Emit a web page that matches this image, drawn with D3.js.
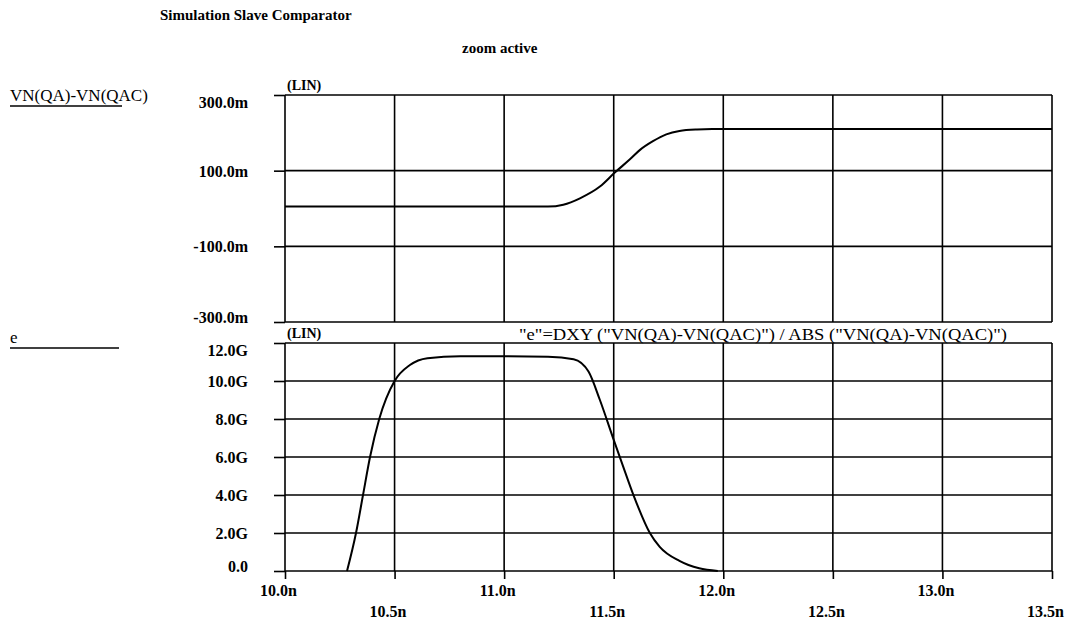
<!DOCTYPE html>
<html>
<head>
<meta charset="utf-8">
<script src="https://cdn.jsdelivr.net/npm/d3@7"></script>
<style>
body { margin: 0; background: #fff; }
text { font-family: "Liberation Serif", "Times New Roman", serif; fill: #000; }
</style>
</head>
<body>
<svg width="1069" height="623"></svg>
<script>
// shared time axis (ns)
var timeTicks = [10.0, 10.5, 11.0, 11.5, 12.0, 12.5, 13.0, 13.5];
var timeLabels = ["10.0n", "10.5n", "11.0n", "11.5n", "12.0n", "12.5n", "13.0n", "13.5n"];

// upper plot: VN(QA)-VN(QAC) in mV
var vTicks = [300, 100, -100, -300];
var vLabels = ["300.0m", "100.0m", "-100.0m", "-300.0m"];
var vTime  = [10.0, 11.2, 11.27, 11.346, 11.437, 11.505, 11.574, 11.62, 11.679, 11.74, 11.80, 11.88, 11.95, 13.5];
var vValue = [5, 5, 10, 27, 58, 95, 130, 155, 178, 196, 205, 209, 210, 210];

// lower plot: e in G
var eTicks = [12, 10, 8, 6, 4, 2, 0];
var eLabels = ["12.0G", "10.0G", "8.0G", "6.0G", "4.0G", "2.0G", "0.0"];
var eTime  = [10.283, 10.324, 10.356, 10.388, 10.43, 10.5, 10.57, 10.65, 10.8, 11.0, 11.2, 11.317, 11.385, 11.437, 11.5, 11.54, 11.59, 11.665, 11.71, 11.80, 11.89, 11.975];
var eValue = [0, 2, 4, 6, 8, 10, 10.84, 11.2, 11.3, 11.3, 11.28, 11.15, 10.5, 9.0, 6.9, 5.6, 4.0, 2.0, 1.27, 0.53, 0.14, 0];

var svg = d3.select("svg");

var x = d3.scaleLinear().domain([10, 13.5]).range([285, 1052]);
var yTop = d3.scaleLinear().domain([-300, 300]).range([322, 95]);
var yBot = d3.scaleLinear().domain([0, 12]).range([571, 343]);

svg.append("text").attr("x", 160).attr("y", 20)
  .style("font-size", "15px").style("font-weight", "bold")
  .text("Simulation Slave Comparator");
svg.append("text").attr("x", 462).attr("y", 53)
  .style("font-size", "15px").style("font-weight", "bold")
  .text("zoom active");

function plot(y, ticks, labels, times, values, name, nameY, lineEnd) {
  var g = svg.append("g");

  // grid, borders included
  g.selectAll(".vg").data(timeTicks).enter().append("line")
    .attr("x1", d => x(d)).attr("x2", d => x(d))
    .attr("y1", y.range()[1]).attr("y2", y.range()[0])
    .attr("stroke", "#000").attr("stroke-width", 1.6);
  g.selectAll(".hg").data(ticks).enter().append("line")
    .attr("x1", x.range()[0]).attr("x2", x.range()[1])
    .attr("y1", d => y(d)).attr("y2", d => y(d))
    .attr("stroke", "#000").attr("stroke-width", 1.6);

  var axis = d3.axisLeft(y).tickValues(ticks).tickSize(11).tickPadding(26)
    .tickFormat((d, i) => labels[i]);
  var ax = g.append("g").attr("transform", "translate(" + x.range()[0] + ",0)").call(axis);
  ax.select(".domain").remove();
  ax.selectAll("line").attr("stroke", "#000").attr("stroke-width", 1.6);
  ax.selectAll("text")
    .style("font-family", "'Liberation Serif', serif").style("font-size", "16px").style("font-weight", "bold")
    .attr("dy", (d, i) => i == 0 ? "0.75em" : (i == ticks.length - 1 ? "0" : "0.35em"));

  g.append("text").attr("x", x.range()[0] + 2).attr("y", y.range()[1] - 5)
    .style("font-size", "14px").style("font-weight", "bold").text("(LIN)");

  var line = d3.line().x((d, i) => x(times[i])).y(d => y(d)).curve(d3.curveMonotoneX);
  g.append("path").datum(values).attr("d", line)
    .attr("fill", "none").attr("stroke", "#000").attr("stroke-width", 2);

  g.append("text").attr("x", 10).attr("y", nameY).style("font-size", "17px").text(name);
  g.append("line").attr("x1", 10).attr("x2", lineEnd).attr("y1", nameY + 5).attr("y2", nameY + 5)
    .attr("stroke", "#000").attr("stroke-width", 1.6);
}

plot(yTop, vTicks, vLabels, vTime, vValue, "VN(QA)-VN(QAC)", 101, 122);
plot(yBot, eTicks, eLabels, eTime, eValue, "e", 343, 119);

svg.append("text").attr("x", 519).attr("y", 340).style("font-size", "16px")
  .attr("textLength", 488).attr("lengthAdjust", "spacingAndGlyphs")
  .text("\"e\"=DXY (\"VN(QA)-VN(QAC)\") / ABS (\"VN(QA)-VN(QAC)\")");

var xAxis = d3.axisBottom(x).tickValues(timeTicks).tickSize(8).tickFormat((d, i) => timeLabels[i]);
var xa = svg.append("g").attr("transform", "translate(0," + yBot.range()[0] + ")").call(xAxis);
xa.select(".domain").remove();
xa.selectAll("line").attr("stroke", "#000").attr("stroke-width", 1.6);
xa.selectAll("text")
  .style("font-family", "'Liberation Serif', serif").style("font-size", "16px").style("font-weight", "bold")
  .attr("x", -7).attr("dy", "0.35em")
  .attr("y", (d, i) => i % 2 == 0 ? 19 : 40);
</script>
</body>
</html>
